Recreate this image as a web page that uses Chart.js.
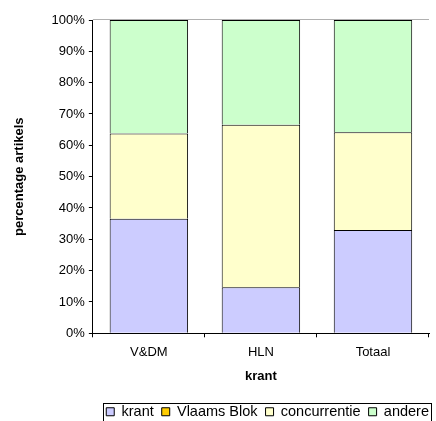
<!DOCTYPE html>
<html>
<head>
<meta charset="utf-8">
<script src="https://cdn.jsdelivr.net/npm/chart.js@4/dist/chart.umd.min.js"></script>
<style>
  html, body { margin: 0; padding: 0; background: #fff; }
  #wrap { width: 436px; height: 421px; }
</style>
</head>
<body>
<div id="wrap"><canvas id="chart" width="436" height="421"></canvas></div>
<script>
const categories = ['V&DM', 'HLN', 'Totaal'];
const krant = [36.6, 14.7, 33.0];
const vlaamsBlok = [0, 0, 0];
const concurrentie = [27.2, 51.9, 31.2];
const andere = [36.2, 33.4, 35.8];
const yTicks = [0, 10, 20, 30, 40, 50, 60, 70, 80, 90, 100];

Chart.defaults.font.family = '"Liberation Sans", Arial, sans-serif';
Chart.defaults.font.size = 13;
Chart.defaults.color = '#000';

// thin grey line on top of the plot area + frame round the legend
const extras = {
  id: 'extras',
  afterDraw(chart) {
    const ctx = chart.ctx, a = chart.chartArea;
    ctx.save();
    ctx.strokeStyle = '#b0b0b0';
    ctx.lineWidth = 1;
    ctx.beginPath();
    ctx.moveTo(a.left, Math.round(a.top) - 0.5);
    ctx.lineTo(a.right, Math.round(a.top) - 0.5);
    ctx.stroke();
    const boxes = chart.legend.legendHitBoxes;
    if (boxes && boxes.length) {
      const l = Math.min(...boxes.map(b => b.left)) - 3;
      const r = Math.max(...boxes.map(b => b.left + b.width)) + 2;
      const t = Math.min(...boxes.map(b => b.top)) - 2;
      const bt = Math.max(...boxes.map(b => b.top + b.height)) + 2;
      ctx.strokeStyle = '#000';
      ctx.strokeRect(Math.round(l) + 0.5, Math.round(t) + 0.5, Math.round(r - l), Math.round(bt - t));
    }
    ctx.restore();
  }
};

const mk = (label, data, color) => ({
  label, data, backgroundColor: color, borderColor: '#000', borderWidth: 1,
  barPercentage: 0.7, categoryPercentage: 1.0
});

new Chart(document.getElementById('chart').getContext('2d'), {
  type: 'bar',
  data: {
    labels: categories,
    datasets: [
      mk('krant', krant, '#CCCCFF'),
      Object.assign(mk('Vlaams Blok', vlaamsBlok, '#FFCC00'), { borderWidth: 0 }),
      mk('concurrentie', concurrentie, '#FFFFCC'),
      mk('andere', andere, '#CCFFCC')
    ]
  },
  options: {
    responsive: false,
    animation: false,
    layout: { padding: { left: 8, right: -1, top: 20, bottom: -8 } },
    scales: {
      x: {
        stacked: true,
        border: { color: '#000' },
        grid: { display: true, drawOnChartArea: false, tickLength: 4, color: '#000', offset: true },
        ticks: { padding: 7 },
        title: { display: true, text: 'krant', font: { weight: 'bold' }, padding: { top: 2, bottom: 12 } }
      },
      y: {
        stacked: true,
        min: 0, max: 100,
        afterBuildTicks: s => { s.ticks = yTicks.map(v => ({ value: v })); },
        border: { color: '#000' },
        grid: { display: true, drawOnChartArea: false, tickLength: 4, color: '#000' },
        ticks: { padding: 4, callback: v => v + '%' },
        title: { display: true, text: 'percentage artikels', font: { weight: 'bold' }, padding: { top: 4, bottom: 20 } }
      },
      // empty spacer on the right so the plot ends where the legend frame does
      yRight: {
        position: 'right',
        display: true,
        grid: { display: false },
        border: { display: false },
        ticks: { display: false },
        afterFit: s => { s.width = 8; }
      }
    },
    plugins: {
      legend: {
        position: 'bottom',
        align: 'end',
        labels: {
          boxWidth: 8, boxHeight: 8, padding: 8, font: { size: 14.5 },
          generateLabels: chart => chart.data.datasets.map((d, i) => ({
            text: d.label, fillStyle: d.backgroundColor, strokeStyle: '#000',
            lineWidth: 1, datasetIndex: i, hidden: false
          }))
        }
      },
      tooltip: { enabled: false }
    }
  },
  plugins: [extras]
});
</script>
</body>
</html>
